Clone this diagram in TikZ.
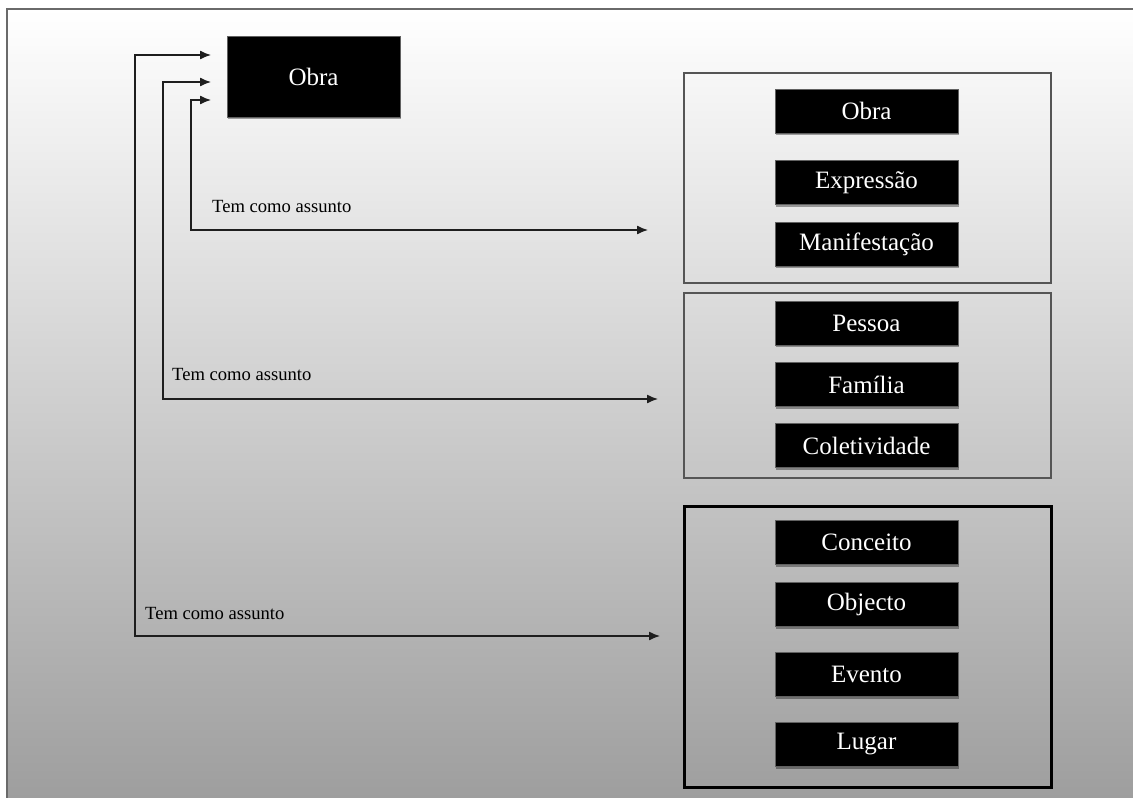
\documentclass[tikz,border=0pt]{standalone}
\usepackage{fontspec}
\setmainfont{Liberation Serif}
\usetikzlibrary{arrows.meta,shadows}
\definecolor{framegray}{HTML}{6A6A6A}
\definecolor{boxgray}{HTML}{555555}
\definecolor{linkgray}{HTML}{1E1E1E}
\begin{document}
\begin{tikzpicture}[x=1pt,y=-1pt,
  entity/.style={fill=black, draw=black!62, line width=1pt, text=white,
    minimum width=183pt, minimum height=44pt, inner sep=0pt,
    font=\fontsize{25}{29}\selectfont,
    drop shadow={shadow xshift=1.2pt, shadow yshift=-2pt, opacity=0.35, fill=black}},
  mainentity/.style={entity, minimum width=173pt, minimum height=81pt},
  groupbox/.style={draw=boxgray, line width=1.4pt, minimum width=367pt, inner sep=0pt},
  strongbox/.style={draw=black, line width=3pt, minimum width=367pt, inner sep=0pt},
  link/.style={draw=linkgray, line width=1.3pt,
    {Latex[length=11pt,width=9pt]}-{Latex[length=11pt,width=9pt]}},
  lbl/.style={anchor=base west, inner sep=0pt, text=black,
    font=\fontsize{18.6}{22}\selectfont}
]
\useasboundingbox (0,0) rectangle (1133,798);

% slide background and its frame
\shade[top color=white, middle color=black!14, bottom color=black!38]
  (7,9) rectangle (1133,798);
\draw[framegray, line width=2.5pt] (7,798) -- (7,9) -- (1133,9);

% main entity
\node[mainentity] (obra) at (313.5,76.5) {Obra};

% group frames
\node[groupbox, minimum height=210pt] (grp1) at (867.5,178) {};
\node[groupbox, minimum height=185pt] (grp2) at (867.5,385.5) {};
\node[strongbox, minimum height=281pt] (grp3) at (868,646.5) {};

% group 1
\node[entity] (g1a) at (866.5,111) {Obra};
\node[entity] (g1b) at (866.5,182.5) {Expressão};
\node[entity] (g1c) at (866.5,244) {Manifestação};
% group 2
\node[entity] (g2a) at (866.5,323) {Pessoa};
\node[entity] (g2b) at (866.5,384.5) {Família};
\node[entity] (g2c) at (866.5,445.5) {Coletividade};
% group 3
\node[entity] (g3a) at (866.5,542.5) {Conceito};
\node[entity] (g3b) at (866.5,604.5) {Objecto};
\node[entity] (g3c) at (866.5,674.5) {Evento};
\node[entity] (g3d) at (866.5,744.5) {Lugar};

% connector ends
\coordinate (in1) at (211,100);
\coordinate (in2) at (211,82);
\coordinate (in3) at (211,55);
\coordinate (out1) at (648,230);
\coordinate (out2) at (658,399);
\coordinate (out3) at (660,636);

% "tem como assunto" relations
\draw[link] (in1) -- (191,100) |- (out1);
\draw[link] (in2) -- (163,82) |- (out2);
\draw[link] (in3) -- (135,55) |- (out3);

\node[lbl] (l1) at (212,212) {Tem como assunto};
\node[lbl] (l2) at (172,380) {Tem como assunto};
\node[lbl] (l3) at (145,619) {Tem como assunto};
\end{tikzpicture}
\end{document}
